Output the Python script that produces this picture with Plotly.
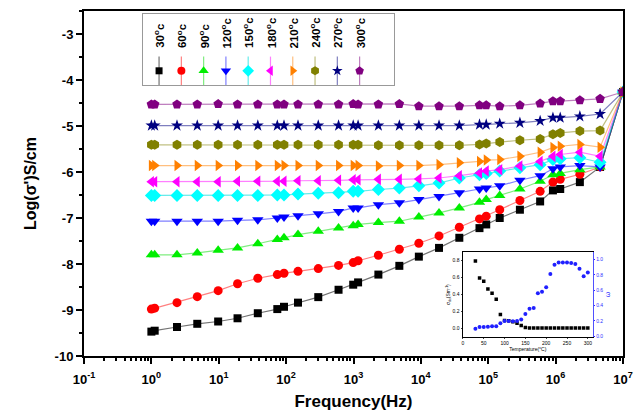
import plotly.graph_objects as go

# ---------------- data ----------------
freq = [1, 1.12, 2.4, 4.8, 9.8, 19, 38, 74, 93, 150, 300, 600, 990, 1170, 2340,
        4790, 9330, 18600, 37200, 74100, 93300, 148000, 295000, 589000, 912000,
        1.17e6, 2.29e6, 4.57e6, 1e7]

temps = ["30", "60", "90", "120", "150", "180", "210", "240", "270", "300"]

s30 = [-9.47, -9.45, -9.37, -9.30, -9.25, -9.18, -9.07, -8.98, -8.93, -8.84, -8.72, -8.56, -8.45, -8.40,
       -8.23, -8.04, -7.84, -7.65, -7.43, -7.22, -7.14, -7.00, -6.82, -6.64, -6.40, -6.37, -6.22, -5.89, -4.26]
s60 = [-8.98, -8.96, -8.84, -8.71, -8.58, -8.43, -8.31, -8.23, -8.20, -8.16, -8.10, -8.03, -7.97, -7.93,
       -7.81, -7.68, -7.55, -7.39, -7.20, -7.02, -6.96, -6.82, -6.62, -6.42, -6.22, -6.16, -6.05, -5.89, -4.26]
s90 = [-7.80, -7.80, -7.80, -7.76, -7.70, -7.65, -7.56, -7.47, -7.43, -7.36, -7.29, -7.22, -7.17, -7.14,
       -7.10, -7.07, -6.98, -6.89, -6.78, -6.66, -6.60, -6.51, -6.37, -6.20, -6.06, -6.03, -5.95, -5.89, -4.26]
s120 = [-7.07, -7.07, -7.07, -7.07, -7.07, -7.05, -7.04, -7.00, -6.98, -6.95, -6.91, -6.86, -6.78, -6.78,
        -6.71, -6.67, -6.60, -6.53, -6.45, -6.37, -6.35, -6.30, -6.18, -6.08, -5.93, -5.89, -5.86, -5.89, -4.26]
s150 = [-6.51, -6.51, -6.51, -6.51, -6.51, -6.51, -6.51, -6.50, -6.50, -6.48, -6.46, -6.45, -6.42, -6.42,
        -6.38, -6.35, -6.30, -6.24, -6.13, -6.06, -6.03, -5.98, -5.91, -5.84, -5.73, -5.71, -5.69, -5.79, -4.26]
s180 = [-6.21, -6.21, -6.21, -6.21, -6.21, -6.20, -6.20, -6.20, -6.20, -6.19, -6.19, -6.18, -6.17, -6.17,
        -6.16, -6.16, -6.15, -6.13, -6.08, -6.02, -5.98, -5.95, -5.87, -5.77, -5.66, -5.62, -5.57, -5.66, -4.26]
s210 = [-5.86, -5.86, -5.86, -5.86, -5.86, -5.86, -5.86, -5.86, -5.86, -5.86, -5.86, -5.86, -5.86, -5.86,
        -5.87, -5.86, -5.86, -5.84, -5.80, -5.77, -5.74, -5.73, -5.66, -5.57, -5.47, -5.44, -5.40, -5.46, -4.26]
s240 = [-5.41, -5.41, -5.41, -5.41, -5.41, -5.41, -5.41, -5.41, -5.41, -5.41, -5.41, -5.41, -5.41, -5.41,
        -5.42, -5.42, -5.42, -5.42, -5.42, -5.40, -5.38, -5.35, -5.31, -5.28, -5.18, -5.15, -5.11, -5.10, -4.26]
s270 = [-4.99, -4.99, -4.99, -4.99, -4.99, -4.99, -4.99, -4.99, -4.99, -4.99, -4.99, -4.99, -4.99, -4.99,
        -4.99, -4.99, -4.99, -4.99, -4.99, -4.97, -4.97, -4.95, -4.93, -4.89, -4.82, -4.82, -4.79, -4.74, -4.26]
s300 = [-4.53, -4.53, -4.53, -4.53, -4.52, -4.53, -4.53, -4.53, -4.53, -4.53, -4.53, -4.53, -4.52, -4.53,
        -4.53, -4.52, -4.57, -4.57, -4.57, -4.55, -4.55, -4.57, -4.55, -4.51, -4.46, -4.46, -4.44, -4.41, -4.26]

series = [s30, s60, s90, s120, s150, s180, s210, s240, s270, s300]

x_tickvals = [0.1, 1, 10, 100, 1e3, 1e4, 1e5, 1e6, 1e7]
x_ticktext = ["10<sup>-1</sup>", "10<sup>0</sup>", "10<sup>1</sup>", "10<sup>2</sup>", "10<sup>3</sup>",
              "10<sup>4</sup>", "10<sup>5</sup>", "10<sup>6</sup>", "10<sup>7</sup>"]
y_tickvals = [-10, -9, -8, -7, -6, -5, -4, -3]
y_ticktext = ["-10", "-9", "-8", "-7", "-6", "-5", "-4", "-3"]

# inset data
inset_temp = [30, 40, 50, 60, 70, 80, 90, 100, 110, 120, 130, 140, 150, 160, 170, 180, 190, 200,
              210, 220, 230, 240, 250, 260, 270, 280, 290, 300]
inset_sigma = [0.79, 0.59, 0.55, 0.46, 0.41, 0.34, 0.16, 0.09, 0.085, 0.075, 0.055, 0.03, 0.005, 0.0,
               0.0, 0.0, 0.0, 0.0, 0.0, 0.0, 0.0, 0.0, 0.0, 0.0, 0.0, 0.0, 0.0, 0.0]
inset_omega = [0.10, 0.12, 0.12, 0.125, 0.13, 0.13, 0.17, 0.20, 0.20, 0.195, 0.20, 0.22, 0.29, 0.36,
               0.37, 0.56, 0.58, 0.64, 0.81, 0.93, 0.96, 0.96, 0.96, 0.955, 0.94, 0.88, 0.78, 0.83]

# ---------------- styles ----------------
colors = ["#000000", "#ff0000", "#00ee00", "#0000ff", "#00ffff", "#ff00ff", "#ff8000", "#808000",
          "#000080", "#800080"]
line_colors = ["rgba(0,0,0,0.55)", "rgba(255,0,0,0.5)", "rgba(0,220,0,0.5)", "rgba(0,0,255,0.5)",
               "rgba(0,220,220,0.6)", "rgba(255,0,255,0.5)", "rgba(255,128,0,0.5)", "rgba(128,128,0,0.5)",
               "rgba(0,0,128,0.5)", "rgba(128,0,128,0.5)"]
symbols = ["square", "circle", "triangle-up", "triangle-down", "diamond", "triangle-left",
           "triangle-right", "hexagon", "star", "pentagon"]
sizes = [8, 9, 10, 10, 10, 10, 10, 10, 9, 10]

FONT = "Arial, Liberation Sans, sans-serif"

fig = go.Figure()

for i, s in enumerate(series):
    fig.add_trace(go.Scatter(
        x=freq, y=s, mode="lines+markers", showlegend=False,
        line=dict(color=line_colors[i], width=1.2),
        marker=dict(symbol=symbols[i], color=colors[i], size=sizes[i], line=dict(width=0)),
        xaxis="x", yaxis="y"))

# custom legend (drawn on an auxiliary axis)
for i, t in enumerate(temps):
    fig.add_trace(go.Scatter(
        x=[i, i], y=[0.0, 0.40], mode="lines", showlegend=False,
        line=dict(color=line_colors[i], width=1.2), xaxis="x3", yaxis="y3", hoverinfo="skip"))
    fig.add_trace(go.Scatter(
        x=[i], y=[0.2], mode="markers", showlegend=False,
        marker=dict(symbol=symbols[i], color=colors[i], size=sizes[i] - 1, line=dict(width=0)),
        xaxis="x3", yaxis="y3", hoverinfo="skip"))
    fig.add_annotation(
        x=i, y=0.49, xref="x3", yref="y3", text=t + "<sup>o</sup>c", textangle=-90,
        showarrow=False, xanchor="center", yanchor="bottom",
        font=dict(family=FONT, size=11.5, color="black", weight="bold"))

# inset
fig.add_trace(go.Scatter(
    x=inset_temp, y=inset_sigma, mode="markers", showlegend=False,
    marker=dict(symbol="square", color="black", size=3.5), xaxis="x2", yaxis="y2"))
fig.add_trace(go.Scatter(
    x=inset_temp, y=inset_omega, mode="markers", showlegend=False,
    marker=dict(symbol="circle", color="#2020ff", size=4), xaxis="x2", yaxis="y4"))

tiny = dict(family=FONT, size=5, color="black")

fig.update_layout(
    width=644, height=413,
    margin=dict(l=84, r=21, t=11, b=57, autoexpand=False),
    paper_bgcolor="white", plot_bgcolor="white",
    font=dict(family=FONT, color="black"),
    xaxis=dict(
        type="log", range=[-1, 7], domain=[0, 1], automargin=False,
        tickvals=x_tickvals, ticktext=x_ticktext,
        tickfont=dict(family=FONT, size=13, weight="bold"),
        ticks="outside", ticklen=6, tickwidth=2, tickcolor="black", ticklabelstandoff=4,
        minor=dict(ticks="outside", ticklen=3, tickwidth=1.5, tickcolor="black", dtick="D1", showgrid=False),
        showline=True, linewidth=2, linecolor="black", mirror=True,
        showgrid=False, zeroline=False,
        title=dict(text="Frequency(Hz)", font=dict(family=FONT, size=17, weight="bold"), standoff=10),
    ),
    yaxis=dict(
        range=[-10, -2.5], domain=[0, 1], automargin=False,
        tickvals=y_tickvals, ticktext=y_ticktext,
        tickfont=dict(family=FONT, size=13, weight="bold"),
        ticks="outside", ticklen=6, tickwidth=2, tickcolor="black",
        minor=dict(ticks="outside", ticklen=3, tickwidth=1.5, tickcolor="black", dtick=0.5, showgrid=False),
        showline=True, linewidth=2, linecolor="black", mirror=True,
        showgrid=False, zeroline=False,
        title=dict(text="Log(σ')S/cm", font=dict(family=FONT, size=16, weight="bold"), standoff=14),
    ),
    xaxis2=dict(
        domain=[0.703, 0.944], anchor="y2", range=[0, 312], automargin=False,
        tickvals=[0, 50, 100, 150, 200, 250, 300], tickfont=tiny,
        ticks="outside", ticklen=1.5, tickwidth=0.6,
        showline=True, linewidth=0.8, linecolor="black", mirror=True,
        showgrid=False, zeroline=False,
        title=dict(text="Temperature(°C)", font=tiny, standoff=1),
    ),
    yaxis2=dict(
        domain=[0.055, 0.301], anchor="x2", range=[-0.106, 0.894], automargin=False,
        tickvals=[0.0, 0.2, 0.4, 0.6, 0.8], ticktext=["0.0", "0.2", "0.4", "0.6", "0.8"], tickfont=tiny,
        ticks="outside", ticklen=1.5, tickwidth=0.6,
        showline=True, linewidth=0.8, linecolor="black",
        showgrid=False, zeroline=False,
        title=dict(text="σ<sub>dc</sub>(Sm<sup>-1</sup>)", font=tiny, standoff=1),
    ),
    yaxis4=dict(
        overlaying="y2", anchor="x2", side="right", range=[-0.009, 1.095], automargin=False,
        tickvals=[0.0, 0.2, 0.4, 0.6, 0.8, 1.0], ticktext=["0.0", "0.2", "0.4", "0.6", "0.8", "1.0"],
        tickfont=dict(family=FONT, size=5, color="#3030ff"),
        ticks="outside", ticklen=1.5, tickwidth=0.6, tickcolor="#3030ff",
        showline=True, linewidth=0.8, linecolor="#5050ff",
        showgrid=False, zeroline=False,
        title=dict(text="ω", font=dict(family=FONT, size=7, color="#3030ff"), standoff=2),
    ),
    xaxis3=dict(
        domain=[0.1095, 0.575], anchor="y3", range=[-0.72, 10.54], automargin=False,
        showticklabels=False, ticks="", showgrid=False, zeroline=False,
        showline=True, linewidth=1, linecolor="#999999", mirror=True,
    ),
    yaxis3=dict(
        domain=[0.7855, 0.9913], anchor="x3", range=[0, 1], automargin=False,
        showticklabels=False, ticks="", showgrid=False, zeroline=False,
        showline=True, linewidth=1, linecolor="#999999", mirror=True,
    ),
)

fig.write_html("out.html")
